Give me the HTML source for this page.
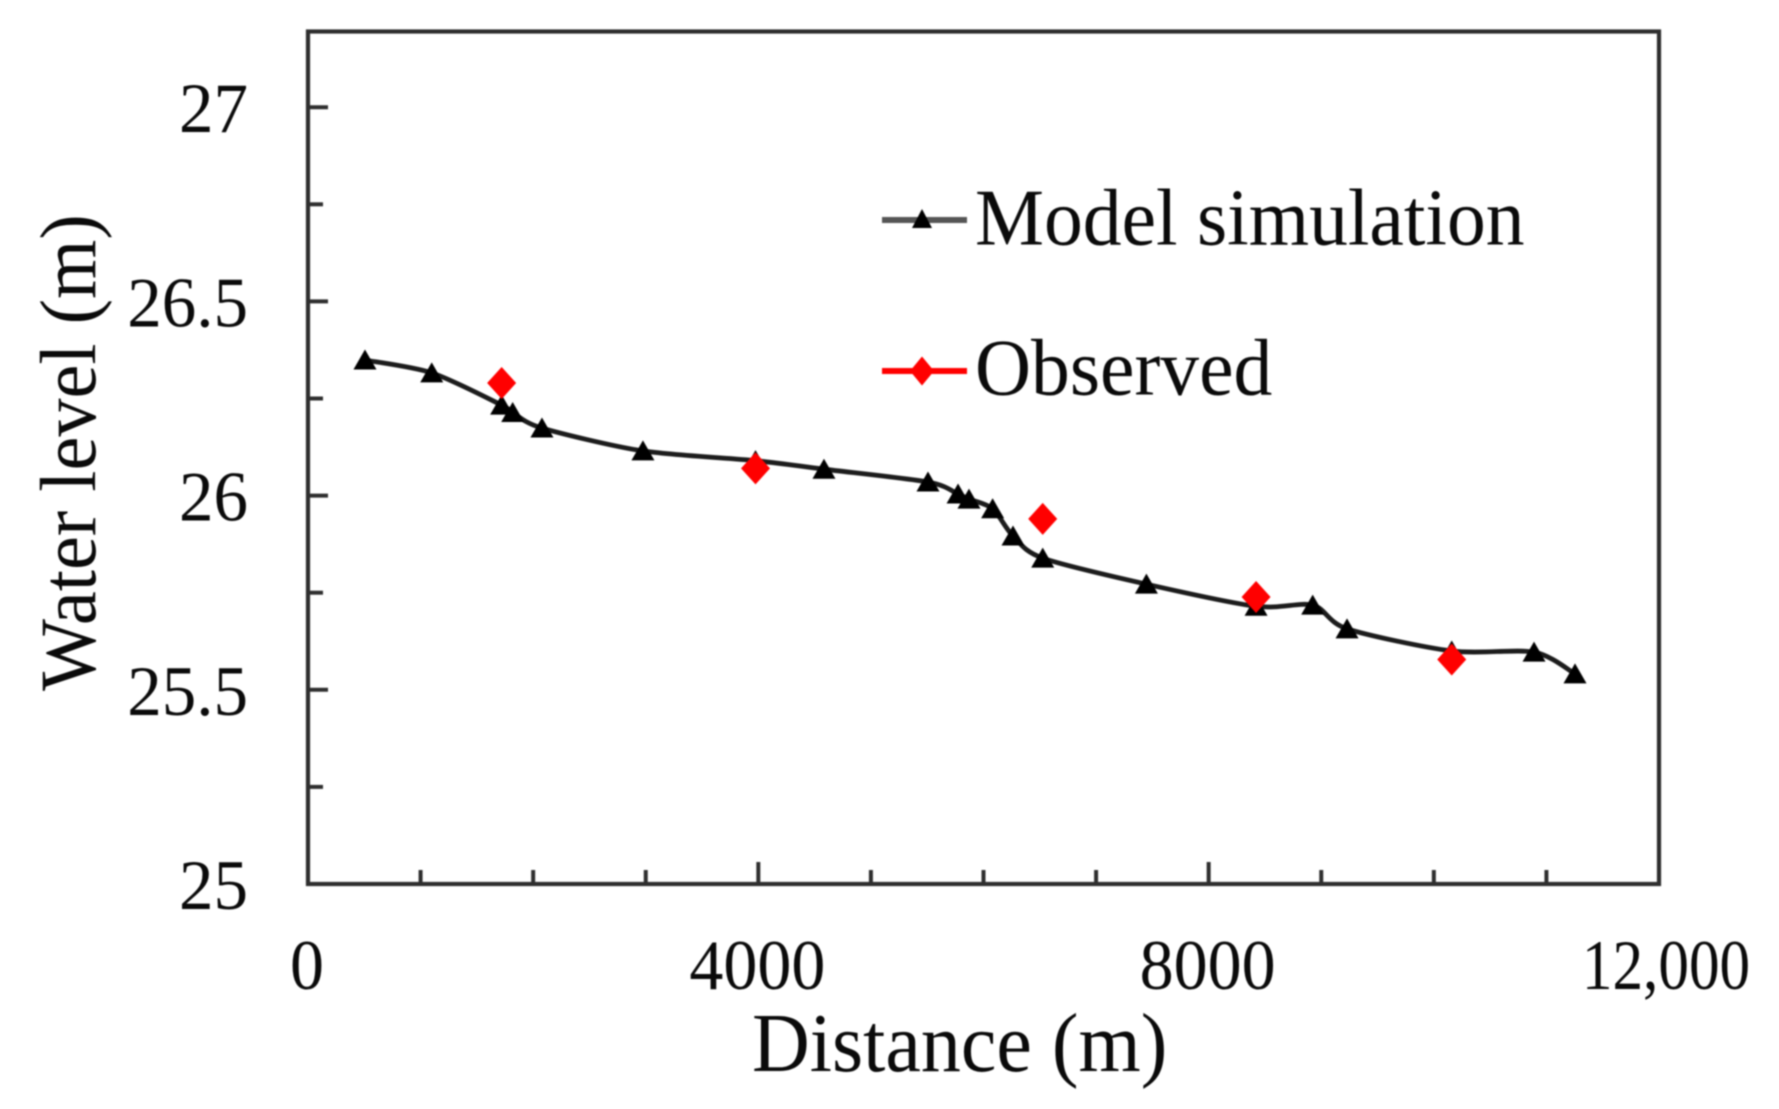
<!DOCTYPE html>
<html lang="en">
<head>
<meta charset="utf-8">
<title>Water level vs distance</title>
<style>
  html, body { margin: 0; padding: 0; background: #fff; }
  svg { display: block; filter: blur(0.75px); }
  text { font-family: "Liberation Serif", serif; fill: #0a0a0a; }
</style>
</head>
<body>
<svg id="chart" width="1779" height="1109" viewBox="0 0 1779 1109" xmlns="http://www.w3.org/2000/svg">
  <rect x="0" y="0" width="1779" height="1109" fill="#ffffff"/>
  <rect x="308" y="31.5" width="1351" height="852.5" fill="none" stroke="#2e2e2e" stroke-width="4.2"/>
  <g id="ticks"></g>
  <g id="tick-labels"></g>
  <g id="model-series"></g>
  <g id="observed-series"></g>

  <text transform="translate(95,691) rotate(-90) scale(1,1.04)" font-size="76.3">Water level (m)</text>
  <text transform="translate(752,1071) scale(1,1.05)" font-size="80">Distance (m)</text>

  <g>
    <g>
      <line x1="882" y1="220" x2="967" y2="220" stroke="#555555" stroke-width="6"/>
      <polygon points="922,209 932,228 912,228" fill="#000000"/>
      <text transform="translate(975,244.5) scale(1,1.04)" font-size="77.6">Model simulation</text>
    </g>
    <g>
      <line x1="882" y1="371" x2="967" y2="371" stroke="#ff0000" stroke-width="6"/>
      <polygon points="922,356.5 934,371 922,385.5 910,371" fill="#ff0000"/>
      <text transform="translate(975,394.5) scale(1,1.04)" font-size="77.6">Observed</text>
    </g>
  </g>
</svg>
<script>
// Chart data
const modelDistance = [506, 1099, 1720, 1818, 2078, 2975, 3975, 4583, 5507, 5774, 5871, 6081, 6262, 6526, 7447, 8421, 8924, 9229, 10159, 10890, 11254];
const modelLevel = [26.349, 26.316, 26.233, 26.214, 26.174, 26.115, 26.09, 26.068, 26.035, 26.004, 25.991, 25.966, 25.896, 25.839, 25.772, 25.715, 25.718, 25.657, 25.6, 25.597, 25.541];
const observedDistance = [1720, 3975, 6526, 8421, 10159];
const observedLevel = [26.29, 26.07, 25.94, 25.739, 25.578];
const xMajorTicks = [0, 4000, 8000, 12000];
const xMinorTicks = [1000, 2000, 3000, 5000, 6000, 7000, 9000, 10000, 11000];
const xTickLabels = ["0", "4000", "8000", "12,000"];
const yMajorTicks = [25, 25.5, 26, 26.5, 27];
const yMinorTicks = [25.25, 25.75, 26.25, 26.75];
const yTickLabels = ["25", "25.5", "26", "26.5", "27"];

const NS = "http://www.w3.org/2000/svg";
function xScale(v) { return 308 + (v / 12000) * 1351; }
function yScale(v) { return 884 - (v - 25) * 388.4; }

const ticksGroup = document.getElementById("ticks");
const labelsGroup = document.getElementById("tick-labels");
const modelGroup = document.getElementById("model-series");
const observedGroup = document.getElementById("observed-series");

function addTickLine(x1, y1, x2, y2, name) {
  const l = document.createElementNS(NS, "line");
  l.setAttribute("x1", x1);
  l.setAttribute("y1", y1);
  l.setAttribute("x2", x2);
  l.setAttribute("y2", y2);
  l.setAttribute("stroke", "#2e2e2e");
  l.setAttribute("stroke-width", "4");
  
  
  ticksGroup.appendChild(l);
}

xMajorTicks.forEach(function (v) { addTickLine(xScale(v), 884, xScale(v), 862, "x-major-tick"); });
xMinorTicks.forEach(function (v) { addTickLine(xScale(v), 884, xScale(v), 870, "x-minor-tick"); });
yMajorTicks.forEach(function (v) { addTickLine(308, yScale(v), 328, yScale(v), "y-major-tick"); });
yMinorTicks.forEach(function (v) { addTickLine(308, yScale(v), 323, yScale(v), "y-minor-tick"); });

function addLabel(text, x, y, anchor, sx, name) {
  const t = document.createElementNS(NS, "text");
  t.textContent = text;
  t.setAttribute("transform", "translate(" + x + "," + y + ") scale(" + sx + ",1.05)");
  t.setAttribute("text-anchor", anchor);
  t.setAttribute("font-size", "68");
  
  
  labelsGroup.appendChild(t);
}

xMajorTicks.forEach(function (v, i) {
  const wide = xTickLabels[i].length > 4;
  addLabel(xTickLabels[i], xScale(v) + (wide ? 7 : -1), 989, "middle", wide ? 0.9 : 1, "x-tick-label");
});
yMajorTicks.forEach(function (v, i) {
  addLabel(yTickLabels[i], 248, yScale(v) + 25, "end", 1.015, "y-tick-label");
});

// Smooth line through the model nodes (Catmull-Rom to Bezier)
function smoothPath(xs, ys) {
  const px = xs.map(xScale);
  const py = ys.map(yScale);
  let d = "M" + px[0] + " " + py[0];
  for (let i = 0; i < px.length - 1; i++) {
    const a = Math.max(i - 1, 0);
    const b = Math.min(i + 2, px.length - 1);
    const k = 0.14;
    d += " C" + (px[i] + (px[i + 1] - px[a]) * k) + " " + (py[i] + (py[i + 1] - py[a]) * k) +
         " " + (px[i + 1] - (px[b] - px[i]) * k) + " " + (py[i + 1] - (py[b] - py[i]) * k) +
         " " + px[i + 1] + " " + py[i + 1];
  }
  return d;
}

const modelLine = document.createElementNS(NS, "path");
modelLine.setAttribute("d", smoothPath(modelDistance, modelLevel));
modelLine.setAttribute("fill", "none");
modelLine.setAttribute("stroke", "#1c1c1c");
modelLine.setAttribute("stroke-width", "4.8");


modelGroup.appendChild(modelLine);

modelDistance.forEach(function (d, i) {
  const x = xScale(d);
  const y = yScale(modelLevel[i]);
  const p = document.createElementNS(NS, "polygon");
  p.setAttribute("points", x + "," + (y - 10.5) + " " + (x + 11.5) + "," + (y + 9.5) + " " + (x - 11.5) + "," + (y + 9.5));
  p.setAttribute("fill", "#000000");
  
  
  modelGroup.appendChild(p);
});

observedDistance.forEach(function (d, i) {
  const x = xScale(d);
  const y = yScale(observedLevel[i]);
  const p = document.createElementNS(NS, "polygon");
  p.setAttribute("points", x + "," + (y - 16) + " " + (x + 14.5) + "," + y + " " + x + "," + (y + 16) + " " + (x - 14.5) + "," + y);
  p.setAttribute("fill", "#ff0000");
  
  
  observedGroup.appendChild(p);
});
</script>
</body>
</html>
